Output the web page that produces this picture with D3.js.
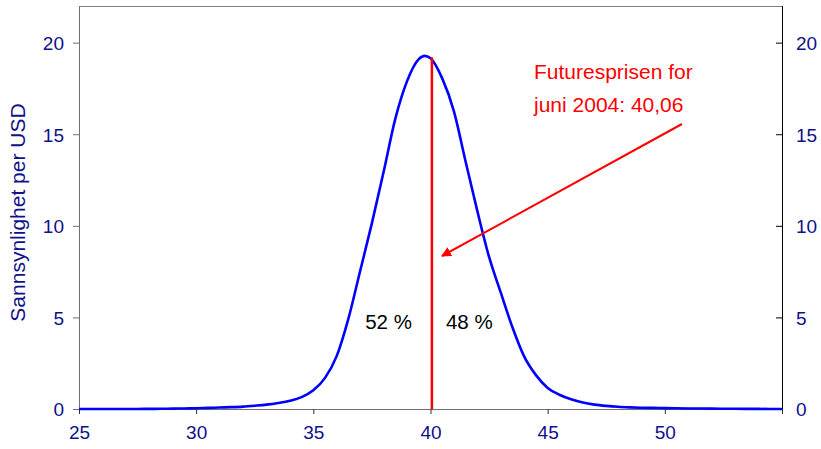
<!DOCTYPE html>
<html>
<head>
<meta charset="utf-8">
<script src="https://cdn.jsdelivr.net/npm/d3@7"></script>
<style>
  html, body { margin: 0; padding: 0; background: #fff; }
  svg { display: block; font-family: "Liberation Sans", Arial, sans-serif; }
</style>
</head>
<body>
<svg id="chart" width="821" height="449"></svg>
<script>
// ---- data ----
const priceUSD = [25, 25.5, 26, 26.5, 27, 27.5, 28, 28.5, 29, 29.5, 30, 30.5, 31, 31.5, 32, 32.5, 33, 33.5, 34, 34.5,
  35, 35.5, 36, 36.5, 37, 37.5, 38, 38.5, 39, 39.5, 39.75, 40, 40.5, 41, 41.5, 42, 42.5, 43, 43.5, 44, 44.5,
  45, 45.5, 46, 46.5, 47, 47.5, 48, 48.5, 49, 49.5, 50, 51, 52, 53, 54, 55];
const density = [0, 0, 0, 0, 0, 0.003, 0.006, 0.01, 0.02, 0.03, 0.04, 0.06, 0.08, 0.1, 0.13, 0.18, 0.24, 0.33, 0.45, 0.65,
  1.02, 1.7, 2.9, 4.95, 7.55, 10.15, 12.95, 15.85, 17.9, 19.1, 19.28, 19.15, 18.05, 16.25, 13.5, 10.8, 8.3, 6.35, 4.45, 2.86, 1.85,
  1.15, 0.78, 0.53, 0.35, 0.24, 0.17, 0.12, 0.09, 0.07, 0.06, 0.05, 0.03, 0.02, 0.01, 0.005, 0];
const xTicks = [25, 30, 35, 40, 45, 50, 55];
const xTickLabels = ["25", "30", "35", "40", "45", "50", ""];
const yTicks = [0, 5, 10, 15, 20];
const yTickLabels = ["0", "5", "10", "15", "20"];
const futuresPrice = 40.06;
const futuresLineTop = 19.2;
const annotationLines = ["Futuresprisen for", "juni 2004: 40,06"];
const shareLabels = ["52 %", "48 %"];
const yTitle = "Sannsynlighet per USD";

// ---- layout ----
const svg = d3.select("#chart");
const pL = 79, pR = 782, pT = 6, pB = 409;
const x = d3.scaleLinear().domain([25, 55]).range([pL, pR]);
const y = d3.scaleLinear().domain([0, 22]).range([pB, pT]);
const navy = "#10108a";

// frame top border
svg.append("line").attr("x1", pL).attr("x2", pR).attr("y1", pT + 0.5).attr("y2", pT + 0.5)
  .attr("stroke", "#808080").attr("stroke-width", 1);

// left axis
const gL = svg.append("g").attr("transform", `translate(${pL},0)`)
  .call(d3.axisLeft(y).tickValues(yTicks).tickFormat((d, i) => yTickLabels[i]).tickSize(6).tickPadding(9).tickSizeOuter(0));
gL.select(".domain").attr("stroke", "#707070").attr("d", `M0.5,${pT}V${pB}`);
gL.selectAll(".tick line").attr("stroke", "#707070");
gL.selectAll("text").attr("fill", navy).style("font-size", "19px").attr("dy", "0.36em");

// right axis (ticks inward)
const gR = svg.append("g").attr("transform", `translate(${pR},0)`)
  .call(d3.axisRight(y).tickValues(yTicks).tickFormat((d, i) => yTickLabels[i]).tickSize(0).tickPadding(14).tickSizeOuter(0));
gR.select(".domain").attr("stroke", "#000").attr("d", `M0.5,${pT}V${pB + 5}`);
gR.selectAll(".tick").append("line").attr("x1", -6).attr("x2", 0).attr("stroke", "#000");
gR.selectAll("text").attr("fill", navy).style("font-size", "19px").attr("dy", "0.36em");

// bottom axis
const gB = svg.append("g").attr("transform", `translate(0,${pB})`)
  .call(d3.axisBottom(x).tickValues(xTicks).tickFormat((d, i) => xTickLabels[i]).tickSize(5).tickPadding(8).tickSizeOuter(0));
gB.select(".domain").attr("stroke", "#707070").attr("d", `M${pL},0.5H${pR}`);
gB.selectAll(".tick line").attr("stroke", "#303030");
gB.selectAll("text").attr("fill", navy).style("font-size", "19px").attr("dy", "0.9em");

// y title
svg.append("text")
  .attr("transform", `translate(25,${(102 + 323) / 2}) rotate(-90)`)
  .attr("text-anchor", "middle")
  .attr("fill", navy)
  .style("font-size", "21px")
  .text(yTitle);

// density curve
const pts = priceUSD.map((p, i) => [p, density[i]]);
svg.append("path")
  .datum(pts)
  .attr("fill", "none")
  .attr("stroke", "#0000ff")
  .attr("stroke-width", 2.6)
  .attr("stroke-linejoin", "round")
  .attr("d", d3.line().x(d => x(d[0])).y(d => y(d[1])).curve(d3.curveMonotoneX));

// futures price line
svg.append("line")
  .attr("x1", x(futuresPrice)).attr("x2", x(futuresPrice))
  .attr("y1", y(0)).attr("y2", y(futuresLineTop))
  .attr("stroke", "#ff0000").attr("stroke-width", 2.5);

// share labels
svg.append("text").attr("x", x(futuresPrice) - 20).attr("y", 329).attr("text-anchor", "end")
  .style("font-size", "20.5px").attr("fill", "#000").text(shareLabels[0]);
svg.append("text").attr("x", x(futuresPrice) + 14).attr("y", 329)
  .style("font-size", "20.5px").attr("fill", "#000").text(shareLabels[1]);

// annotation text
svg.append("text").attr("x", 534).attr("y", 79).style("font-size", "21px").attr("fill", "#ff0000").text(annotationLines[0]);
svg.append("text").attr("x", 534).attr("y", 112).style("font-size", "21px").attr("fill", "#ff0000").text(annotationLines[1]);

// arrow
svg.append("defs").append("marker")
  .attr("id", "arrowhead").attr("viewBox", "0 0 10 10").attr("refX", 9).attr("refY", 5)
  .attr("markerWidth", 5).attr("markerHeight", 5).attr("markerUnits", "strokeWidth").attr("orient", "auto")
  .append("path").attr("d", "M0,0L10,5L0,10Z").attr("fill", "#ff0000");
svg.append("line")
  .attr("x1", 682).attr("y1", 124).attr("x2", 442).attr("y2", 256)
  .attr("stroke", "#ff0000").attr("stroke-width", 2).attr("marker-end", "url(#arrowhead)");
</script>
</body>
</html>
